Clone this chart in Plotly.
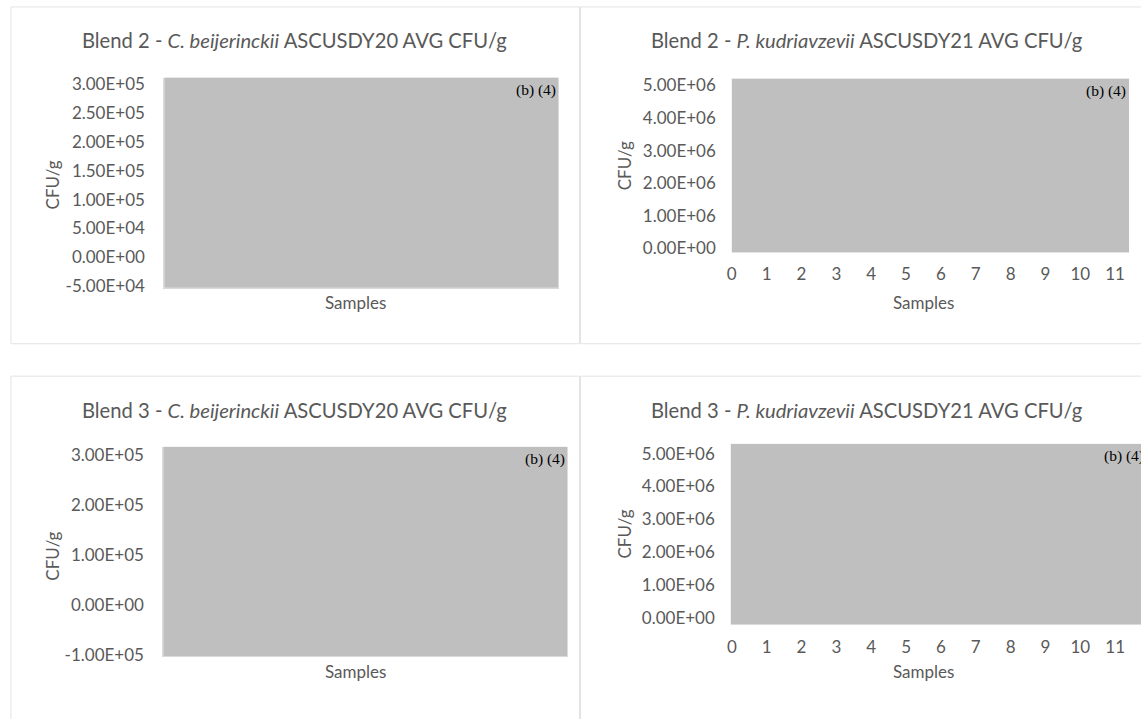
import plotly.graph_objects as go

W, H = 1141, 719

# ---- data ----
panel_titles = [
    "Blend 2 - <i>C. beijerinckii</i> ASCUSDY20 AVG CFU/g",
    "Blend 2 - <i>P. kudriavzevii</i> ASCUSDY21 AVG CFU/g",
    "Blend 3 - <i>C. beijerinckii</i> ASCUSDY20 AVG CFU/g",
    "Blend 3 - <i>P. kudriavzevii</i> ASCUSDY21 AVG CFU/g",
]
y_title = "CFU/g"
x_title = "Samples"
redaction_label = "(b) (4)"

p1_yticks = [-5e4, 0, 5e4, 1e5, 1.5e5, 2e5, 2.5e5, 3e5]
p1_yticklabels = ["-5.00E+04", "0.00E+00", "5.00E+04", "1.00E+05", "1.50E+05",
                  "2.00E+05", "2.50E+05", "3.00E+05"]
p2_yticks = [0, 1e6, 2e6, 3e6, 4e6, 5e6]
p2_yticklabels = ["0.00E+00", "1.00E+06", "2.00E+06", "3.00E+06", "4.00E+06", "5.00E+06"]
p3_yticks = [-1e5, 0, 1e5, 2e5, 3e5]
p3_yticklabels = ["-1.00E+05", "0.00E+00", "1.00E+05", "2.00E+05", "3.00E+05"]
p4_yticks = [0, 1e6, 2e6, 3e6, 4e6, 5e6]
p4_yticklabels = ["0.00E+00", "1.00E+06", "2.00E+06", "3.00E+06", "4.00E+06", "5.00E+06"]
sample_ticks = [0, 1, 2, 3, 4, 5, 6, 7, 8, 9, 10, 11]

# visible (redacted) value ranges of each plot area
p1_yrange = [-5.34e4, 3.12e5]
p2_yrange = [-0.12e6, 5.21e6]
p3_yrange = [-1.02e5, 3.157e5]
p4_yrange = [-0.21e6, 5.30e6]
p2_xrange = [0, 11.4]
p4_xrange = [-0.03, 11.74]

# ---- layout geometry (pixels) ----
def dx(px): return px / W
def dy(py): return 1 - py / H

# plot-area boxes: (left, right, top, bottom) in px
boxes = [(160, 556, 75, 289), (730, 1129, 76, 253), (159, 565, 451, 664), (729, 1141, 448, 632)]

TXT = "#595959"
FONT = "Lato"
GRAY = "#BFBFBF"
FRAME = "#E3E3E3"
TICK_SIZE = 17
LABEL_SIZE = 17
TITLE_SIZE = 20.2

fig = go.Figure()

yticks = [(p1_yticks, p1_yticklabels, p1_yrange), (p2_yticks, p2_yticklabels, p2_yrange),
          (p3_yticks, p3_yticklabels, p3_yrange), (p4_yticks, p4_yticklabels, p4_yrange)]
xranges = [None, p2_xrange, None, p4_xrange]

layout = {}
for i, (box, (tv, tt, yr), xr) in enumerate(zip(boxes, yticks, xranges)):
    n = "" if i == 0 else str(i + 1)
    l, r, t, b = box
    numeric_x = xr is not None
    xa = dict(domain=[dx(l), dx(r)], anchor="y" + n, showgrid=False, zeroline=False,
              showline=not numeric_x, linecolor="#D9D9D9", linewidth=1,
              fixedrange=True)
    if numeric_x:
        xa.update(range=xr, tickmode="array", tickvals=sample_ticks,
                  ticktext=[str(v) for v in sample_ticks], ticks="",
                  tickfont=dict(family=FONT, size=TICK_SIZE, color=TXT), ticklabelstandoff=10)
    else:
        xa.update(range=[0, 1], showticklabels=False, ticks="")
    ya = dict(domain=[dy(b), dy(t)], anchor="x" + n, range=yr, tickmode="array",
              tickvals=tv, ticktext=tt, showgrid=False, zeroline=False,
              showline=not numeric_x, linecolor="#D9D9D9", linewidth=1,
              ticks="", tickfont=dict(family=FONT, size=TICK_SIZE, color=TXT),
              ticklabelstandoff=15, fixedrange=True)
    layout["xaxis" + n] = xa
    layout["yaxis" + n] = ya
    # invisible trace so each subplot is created
    fig.add_trace(go.Scatter(x=[], y=[], xaxis="x" + n, yaxis="y" + n, showlegend=False))

fig.update_layout(**layout)

# panel frames
frames = [(6, 577, 3, 346), (578, 1150, 3, 346), (6, 577, 379, 730), (578, 1150, 379, 730)]
shapes = []
for (l, r, t, b) in frames:
    shapes.append(dict(type="rect", xref="paper", yref="paper", x0=dx(l), x1=dx(r),
                       y0=dy(b), y1=dy(t), line=dict(color=FRAME, width=1),
                       fillcolor="rgba(0,0,0,0)", layer="below"))

annotations = []
title_pos = [(291, 37), (866, 37), (291, 413), (866, 413)]
ylab_pos = [(48, 184), (622, 165), (48, 562), (622, 540)]
xlab_pos = [(352, 304), (923, 304), (352, 680), (923, 680)]
for i in range(4):
    tx, ty = title_pos[i]
    annotations.append(dict(text=panel_titles[i], x=dx(tx), y=dy(ty), xref="paper", yref="paper",
                            showarrow=False, xanchor="center", yanchor="middle",
                            font=dict(family=FONT, size=TITLE_SIZE, color=TXT)))
    lx, ly = ylab_pos[i]
    annotations.append(dict(text=y_title, x=dx(lx), y=dy(ly), xref="paper", yref="paper",
                            showarrow=False, textangle=-90, xanchor="center", yanchor="middle",
                            font=dict(family=FONT, size=LABEL_SIZE, color=TXT)))
    sx, sy = xlab_pos[i]
    annotations.append(dict(text=x_title, x=dx(sx), y=dy(sy), xref="paper", yref="paper",
                            showarrow=False, xanchor="center", yanchor="middle",
                            font=dict(family=FONT, size=LABEL_SIZE, color=TXT)))
    l, r, t, b = boxes[i]
    if i == 3:
        annotations.append(dict(text=redaction_label, x=dx(1102), y=dy(t + 1), xref="paper",
                                yref="paper", showarrow=False, xanchor="left", yanchor="top",
                                font=dict(family="Liberation Serif", size=15.5, color="black")))
    else:
        annotations.append(dict(text=redaction_label, x=dx(r - 1), y=dy(t + 1), xref="paper",
                                yref="paper", showarrow=False, xanchor="right", yanchor="top",
                                font=dict(family="Liberation Serif", size=15.5, color="black")))

fig.update_layout(width=W, height=H, margin=dict(l=0, r=0, t=0, b=0),
                  paper_bgcolor="white", plot_bgcolor=GRAY, showlegend=False,
                  shapes=shapes, annotations=annotations)

fig.write_html("out.html", config={"displayModeBar": False},
               post_script="document.body.style.margin='0';document.body.style.overflow='hidden';")
